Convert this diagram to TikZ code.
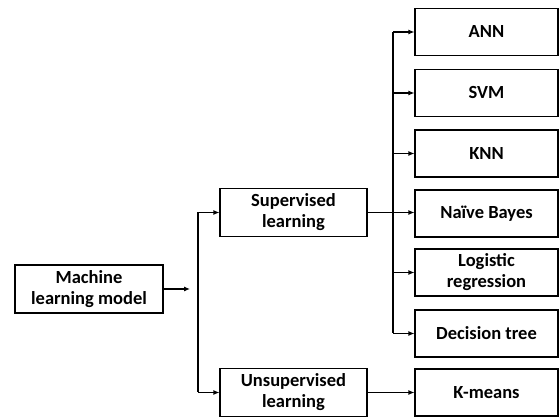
\documentclass[tikz,border=0pt]{standalone}
\usepackage{fontspec}
\setmainfont{Carlito}
\usetikzlibrary{arrows.meta}

\tikzset{
  box/.style={draw, line width=1.1pt, minimum height=47pt, align=center,
    font=\fontsize{18.5}{21}\selectfont\bfseries, inner sep=1pt},
  small/.style={box, minimum width=143pt},
  mid/.style={box, minimum width=147pt, minimum height=48pt},
  link/.style={line width=1.1pt, -{Latex[length=6pt,width=5pt]}}
}

\begin{document}
\begin{tikzpicture}[x=1pt, y=-1pt]
\useasboundingbox (0,0) rectangle (560,419);

% root
\node[mid, minimum width=148pt] (machine) at (89,289) {Machine\\learning model};

% learning types
\node[mid] (sup) at (293.5,212.5) {Supervised\\learning};
\node[mid] (unsup) at (293.5,392.5) {Unsupervised\\learning};

% algorithms
\node[small] (ann) at (486.5,32) {ANN};
\node[small] (svm) at (486.5,93) {SVM};
\node[small] (knn) at (486.5,153.5) {KNN};
\node[small] (nb) at (486.5,213.5) {Naïve Bayes};
\node[small] (lr) at (486.5,272.5) {Logistic\\regression};
\node[small] (dt) at (486.5,333.5) {Decision tree};
\node[small] (km) at (486.5,392.5) {K-means};

% left bus
\coordinate (lbus) at (198,0);
\coordinate (mtip) at (190,289);
\draw[link] (machine.east) -- (mtip);
\draw[line width=1.1pt] (lbus |- sup.west) -- (lbus |- unsup.west);
\draw[link] (lbus |- sup.west) -- (sup.west);
\draw[link] (lbus |- unsup.west) -- (unsup.west);

% right bus
\coordinate (rbus) at (393,0);
\draw[line width=1.1pt] (rbus |- ann.west) -- (rbus |- dt.west);
\draw[link] (sup.east) -- (sup.east -| nb.west);
\foreach \n in {ann, svm, knn, lr, dt}
  \draw[link] (rbus |- \n.west) -- (\n.west);

\draw[link] (unsup.east) -- (km.west);

\end{tikzpicture}
\end{document}
